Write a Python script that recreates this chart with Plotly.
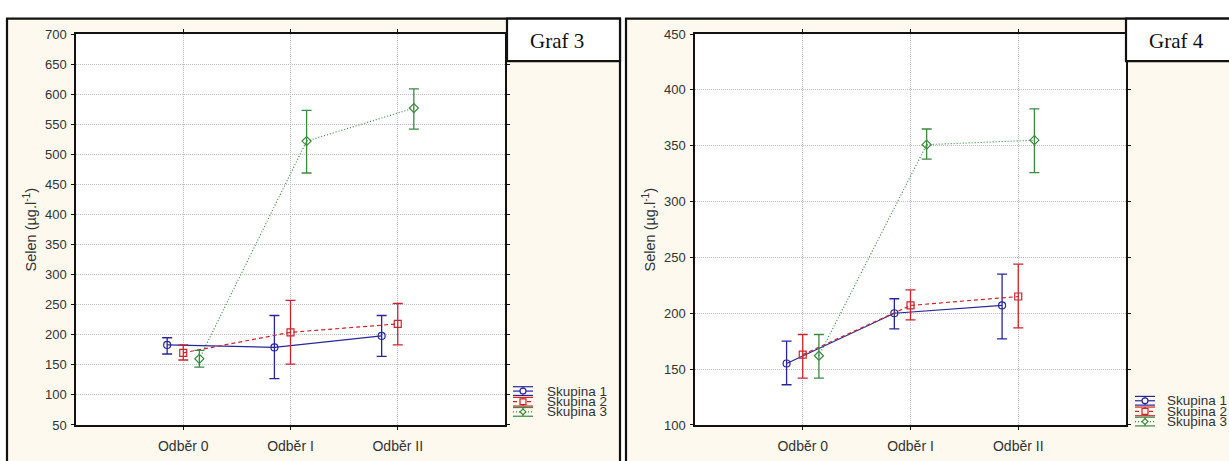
import plotly.graph_objects as go

# ---------------- data ----------------
categories = ["Odběr 0", "Odběr I", "Odběr II"]
groups = ["Skupina 1", "Skupina 2", "Skupina 3"]

# Graf 3 (left)
g3_mean = {
    "Skupina 1": [183, 179, 198],
    "Skupina 2": [170, 204, 218],
    "Skupina 3": [160, 522, 577],
}
g3_upper = {
    "Skupina 1": [195, 232, 232],
    "Skupina 2": [183, 257, 252],
    "Skupina 3": [174, 573, 609],
}
g3_lower = {
    "Skupina 1": [168, 127, 164],
    "Skupina 2": [158, 151, 183],
    "Skupina 3": [146, 469, 542],
}

# Graf 4 (right)
g4_mean = {
    "Skupina 1": [155, 200, 207],
    "Skupina 2": [163, 207, 215],
    "Skupina 3": [162, 351, 355],
}
g4_upper = {
    "Skupina 1": [175, 213, 235],
    "Skupina 2": [181, 221, 244],
    "Skupina 3": [181, 365, 383],
}
g4_lower = {
    "Skupina 1": [136, 186, 177],
    "Skupina 2": [142, 194, 187],
    "Skupina 3": [142, 338, 326],
}

y3_ticks = list(range(50, 701, 50))
y4_ticks = list(range(100, 451, 50))

# ---------------- styling ----------------
W, H = 1229, 461
def px(x):
    return x / W
def py(y):
    return 1 - y / H

colors = {"Skupina 1": "#27279a", "Skupina 2": "#c8262c", "Skupina 3": "#3a8a42"}
dashes = {"Skupina 1": "solid", "Skupina 2": "4px,3px", "Skupina 3": "1px,2px"}
symbols = {"Skupina 1": "circle-open", "Skupina 2": "square-open", "Skupina 3": "diamond-open"}
offsets = {"Skupina 1": -0.15, "Skupina 2": 0.0, "Skupina 3": 0.15}
CREAM = "#fdf9ee"
FONT = "Liberation Sans, Arial, sans-serif"

fig = go.Figure()

def add_panel(mean, upper, lower, xa, ya):
    for g in groups:
        xs = [i + 1 + offsets[g] for i in range(len(categories))]
        m = mean[g]
        up = [u - v for u, v in zip(upper[g], m)]
        dn = [v - l for v, l in zip(m, lower[g])]
        fig.add_trace(go.Scatter(
            x=xs, y=m, xaxis=xa, yaxis=ya, name=g, showlegend=False,
            mode="lines+markers",
            line=dict(color=colors[g], width=1.2, dash=dashes[g]),
            marker=dict(symbol=symbols[g], size=7, color=colors[g],
                        line=dict(color=colors[g], width=1.2)),
            error_y=dict(type="data", symmetric=False, array=up, arrayminus=dn,
                         color=colors[g], thickness=1.3, width=5),
        ))

add_panel(g3_mean, g3_upper, g3_lower, "x", "y")
add_panel(g4_mean, g4_upper, g4_lower, "x2", "y2")

def xaxis_cfg(x0, x1, anchor):
    return dict(
        domain=[px(x0), px(x1)], range=[0, 4], anchor=anchor,
        tickvals=[1, 2, 3], ticktext=categories,
        showgrid=True, gridcolor="#bdbdbd", griddash="1px,1px", gridwidth=1,
        showline=True, linecolor="#111", linewidth=1.5, mirror="ticks",
        ticks="outside", ticklen=3, tickcolor="#111",
        ticklabelstandoff=5,
        tickfont=dict(family=FONT, size=14, color="#333"),
        zeroline=False, fixedrange=True,
    )

def yaxis_cfg(ticks, anchor):
    return dict(
        domain=[py(432), py(28)], range=[ticks[0], ticks[-1]],
        tickvals=ticks, anchor=anchor,
        showgrid=True, gridcolor="#bdbdbd", griddash="1px,1px", gridwidth=1,
        showline=True, linecolor="#111", linewidth=1.5, mirror="ticks",
        ticks="outside", ticklen=3, tickcolor="#111",
        ticklabelstandoff=2,
        tickfont=dict(family=FONT, size=13, color="#333"),
        zeroline=False, fixedrange=True,
    )

shapes = []
annotations = []

# panel frames
for (x0, x1) in [(7, 620), (626, 1240)]:
    shapes.append(dict(type="rect", xref="paper", yref="paper",
                       x0=px(x0), x1=px(x1), y0=py(475), y1=py(12),
                       fillcolor=CREAM, line=dict(color="#111", width=2.2), layer="below"))
# white plot areas
for (x0, x1) in [(76, 505), (695, 1126)]:
    shapes.append(dict(type="rect", xref="paper", yref="paper",
                       x0=px(x0), x1=px(x1), y0=py(432), y1=py(28),
                       fillcolor="white", line=dict(width=0), layer="below"))

# Graf boxes
for (x0, x1, tx, label) in [(507, 620, 528, "Graf 3"), (1126, 1240, 1147, "Graf 4")]:
    shapes.append(dict(type="rect", xref="paper", yref="paper",
                       x0=px(x0), x1=px(x1), y0=py(56), y1=py(12),
                       fillcolor="white", line=dict(color="#111", width=2.2), layer="above"))
    annotations.append(dict(xref="paper", yref="paper", x=px(tx), y=py(35),
                            xanchor="left", yanchor="middle", showarrow=False,
                            text=label, font=dict(family="Liberation Serif, Times New Roman, serif",
                                                  size=21, color="#111")))

# y-axis titles
for xt in [30, 649]:
    annotations.append(dict(xref="paper", yref="paper", x=px(xt), y=py(231),
                            xanchor="center", yanchor="middle", showarrow=False,
                            textangle=-90, text="Selen (µg.l<sup>-1</sup>)",
                            font=dict(family=FONT, size=14.5, color="#333")))

# custom legends
def add_legend(cx, tx, rows):
    for g, yy in zip(groups, rows):
        c = colors[g]
        shapes.append(dict(type="line", xref="paper", yref="paper",
                           x0=px(cx - 10), x1=px(cx + 10), y0=py(yy), y1=py(yy),
                           line=dict(color=c, width=1.2, dash=dashes[g]), layer="above"))
        for dy in (-4.5, 4.5):
            shapes.append(dict(type="line", xref="paper", yref="paper",
                               x0=px(cx - 10), x1=px(cx + 10), y0=py(yy + dy), y1=py(yy + dy),
                               line=dict(color=c, width=1.2), layer="above"))
        shapes.append(dict(type="line", xref="paper", yref="paper",
                           x0=px(cx), x1=px(cx), y0=py(yy - 4.5), y1=py(yy + 4.5),
                           line=dict(color=c, width=1.2), layer="above"))
        r = 3
        if g == "Skupina 1":
            shapes.append(dict(type="circle", xref="paper", yref="paper",
                               x0=px(cx - r), x1=px(cx + r), y0=py(yy + r), y1=py(yy - r),
                               fillcolor=CREAM, line=dict(color=c, width=1.2), layer="above"))
        elif g == "Skupina 2":
            shapes.append(dict(type="rect", xref="paper", yref="paper",
                               x0=px(cx - r), x1=px(cx + r), y0=py(yy + r), y1=py(yy - r),
                               fillcolor=CREAM, line=dict(color=c, width=1.2), layer="above"))
        else:
            path = (f"M {px(cx - r)} {py(yy)} L {px(cx)} {py(yy - r)} "
                    f"L {px(cx + r)} {py(yy)} L {px(cx)} {py(yy + r)} Z")
            shapes.append(dict(type="path", xref="paper", yref="paper", path=path,
                               fillcolor=CREAM, line=dict(color=c, width=1.2), layer="above"))
        annotations.append(dict(xref="paper", yref="paper", x=px(tx), y=py(yy),
                                xanchor="left", yanchor="middle", showarrow=False,
                                text=g, font=dict(family=FONT, size=13.5, color="#333")))

add_legend(523, 545, [397, 408, 418.5])
add_legend(1145, 1165, [407, 418, 428.5])

fig.update_layout(
    width=W, height=H,
    margin=dict(l=0, r=0, t=0, b=0),
    paper_bgcolor="white", plot_bgcolor="white",
    xaxis=xaxis_cfg(76, 505, "y"), yaxis=yaxis_cfg(y3_ticks, "x"),
    xaxis2=xaxis_cfg(695, 1126, "y2"), yaxis2=yaxis_cfg(y4_ticks, "x2"),
    shapes=shapes, annotations=annotations,
    showlegend=False,
)

fig.write_html("out.html")
